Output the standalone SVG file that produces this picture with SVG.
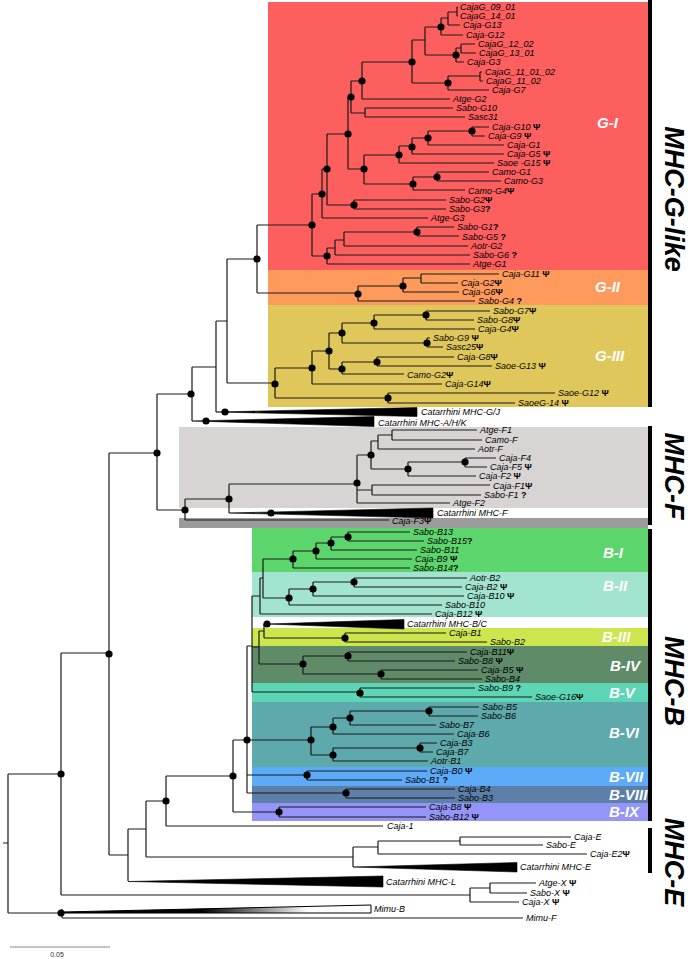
<svg xmlns="http://www.w3.org/2000/svg" width="688" height="959" viewBox="0 0 688 959">
<defs>
<style>
.t{font-family:"Liberation Sans",Arial,sans-serif;font-style:italic;font-size:9px;fill:#000}
.s{font-style:normal;font-weight:bold}
.bl{font-family:"Liberation Sans",Arial,sans-serif;font-style:italic;font-weight:bold;font-size:15px;fill:#fff}
.big{font-family:"Liberation Sans",Arial,sans-serif;font-style:italic;font-weight:bold;font-size:27px;fill:#000;text-anchor:middle}
.ln{fill:none;stroke:#1a1a1a;stroke-width:1.2}
.tri{fill:#000;stroke:#000;stroke-width:0.6}
.dot{fill:#000}
.bar{fill:#000}
</style>
<linearGradient id="gw" x1="0" y1="0" x2="1" y2="0">
<stop offset="0" stop-color="#000"/><stop offset="0.45" stop-color="#000"/><stop offset="0.8" stop-color="#fff"/><stop offset="1" stop-color="#fff"/>
</linearGradient>
</defs>
<rect width="688" height="959" fill="#fff"/>
<g id="bands">
<rect x="268" y="2" width="380" height="268" fill="#fd5e5e"/>
<rect x="268" y="270" width="380" height="35" fill="#fd9a5c"/>
<rect x="268" y="305" width="380" height="102" fill="#e0c75c"/>
<rect x="179" y="427" width="469" height="81" fill="#d8d4d4"/>
<rect x="179" y="518" width="469" height="10" fill="#9b9b9b"/>
<rect x="252" y="528" width="396" height="44" fill="#5cd66c"/>
<rect x="252" y="572" width="396" height="45" fill="#a2e4cf"/>
<rect x="252" y="628" width="396" height="18" fill="#cde64e"/>
<rect x="252" y="646" width="396" height="37" fill="#5f8b68"/>
<rect x="252" y="683" width="396" height="19" fill="#5dd6b5"/>
<rect x="252" y="702" width="396" height="65" fill="#5ea9ac"/>
<rect x="252" y="767" width="396" height="19" fill="#5caaf8"/>
<rect x="252" y="786" width="396" height="17" fill="#5c80a8"/>
<rect x="252" y="803" width="396" height="18" fill="#9595f9"/>
</g>
<g id="band-labels">
<text class="bl" x="597" y="128">G-I</text>
<text class="bl" x="595" y="292">G-II</text>
<text class="bl" x="595" y="361">G-III</text>
<text class="bl" x="603" y="558">B-I</text>
<text class="bl" x="603" y="591">B-II</text>
<text class="bl" x="602" y="642">B-III</text>
<text class="bl" x="610" y="671">B-IV</text>
<text class="bl" x="609" y="698">B-V</text>
<text class="bl" x="609" y="738">B-VI</text>
<text class="bl" x="609" y="782">B-VII</text>
<text class="bl" x="609" y="800">B-VIII</text>
<text class="bl" x="609" y="817">B-IX</text>
</g>
<g id="groups">
<rect class="bar" x="648" y="0" width="4" height="407"/>
<rect class="bar" x="648" y="426" width="4" height="99"/>
<rect class="bar" x="648" y="529" width="4" height="292"/>
<rect class="bar" x="648" y="828" width="4" height="45"/>
<text class="big" transform="translate(665,199) rotate(90)">MHC-G-like</text>
<text class="big" transform="translate(665,476) rotate(90)">MHC-F</text>
<text class="big" transform="translate(665,681) rotate(90)">MHC-B</text>
<text class="big" transform="translate(665,862) rotate(90)">MHC-E</text>
</g>
<g id="connectors">
<path class="ln" d="M3 843H8M8 774V913M8 774H61M8 913H61
M61 653V895M61 653H109M61 895H470
M470 888V902M470 888H490M490 883V893M490 883H536M490 893H527M470 902H519
M62 909V918M62 918H523
M109 453V855M109 453H157M109 855H128
M128 829V881M128 829H146
M146 801V857M146 801H166M146 857H353
M353 847V867M353 847H378M378 841V854M378 841H460M378 854H587
M460 837V845M460 837H571M460 845H543
M166 776V826M166 776H233M166 826H383
M233 740V812M233 740H247M233 812H279
M247 646V793M247 646H252M247 740H311M247 775H307M247 793H346
M252 596V692M252 596H260M252 647H259M252 692H360
M260 578V614M260 578H263M260 614H432
M263 559V598M263 559H293M263 598H289
M293 551V568M293 551H316M293 568H410
M316 543V559M316 543H331M316 559H412
M331 537V550M331 537H348M331 550H417
M348 532V541M348 532H410M348 541H424
M289 589V605M289 589H313M289 605H442
M313 582V596M313 582H354M313 596H464
M354 578V587M354 578H467M354 587H462
M259 631V664M259 631H264M259 664H303
M264 624V638M264 624H267M264 638H345
M345 633V642M345 633H446M345 642H487
M303 656V674M303 656H348M303 674H381
M348 652V661M348 652H467M348 661H455
M381 670V679M381 670H478M381 679H482
M360 688V697M360 688H475M360 697H532
M311 727V755M311 727H333M311 755H333
M333 718V734M333 718H350M333 734H454
M350 711V725M350 711H429M350 725H436
M429 707V716M429 707H479M429 716H478
M333 748V761M333 748H420M333 761H428
M420 743V752M420 743H437M420 752H433
M307 771V780M307 771H427M307 780H402
M346 789V798M346 789H455M346 798H455
M279 807V817M279 807H426M279 817H426
M157 394V510M157 394H192M157 510H185
M185 499V520M185 499H229M185 520H389
M229 484V513M229 484H357
M357 455V503M357 455H371M357 490H372M357 503H450
M371 441V469M371 441H378M371 469H408
M378 435V449M378 435H392M378 449H475
M392 430V440M392 430H477M392 440H482
M408 462V476M408 462H465M408 476H476
M465 458V467M465 458H496M465 467H487
M372 485V495M372 485H490M372 495H481
M192 367V421M192 367H216
M216 321V412M216 321H227
M227 259V383M227 259H257M227 383H275
M257 225V293M257 225H312M257 293H358
M358 286V301M358 286H403M358 301H475
M403 278V292M403 278H421M403 292H459
M421 274V283M421 274H499M421 283H458
M275 368V398M275 368H312M275 398H388
M388 393V403M388 393H555M388 403H515
M312 351V384M312 351H329M312 384H442
M329 333V369M329 333H342M329 369H342
M342 323V343M342 323H374M342 343H427
M374 315V329M374 315H426M374 329H475
M426 311V320M426 311H490M426 320H474
M427 338V347M427 338H430M427 347H443
M342 362V374M342 362H377M342 374H404
M377 357V366M377 357H454M377 366H492
M312 194V256M312 194H322M312 256H327
M322 169V218M322 169H327M322 218H428
M327 134V205M327 134H348M327 205H354
M354 200V209M354 200H446M354 209H446
M348 97V169M348 97H351M348 169H364
M351 81V113M351 81H362M351 113H365
M365 108V117M365 108H453M365 117H465
M362 62V99M362 62H412M362 99H450
M412 40V83M412 40H425M412 83H448
M425 27V55M425 27H441M425 55H456
M441 18V35M441 18H448M441 35H463
M448 12V25M448 12H457M448 25H460
M457 7V16M457 7H458M457 16H458
M456 48V62M456 48H461M456 62H464
M461 44V53M461 44H475M461 53H476
M448 76V90M448 76H480M448 90H489
M480 72V81M480 72H482M480 81H483
M364 155V184M364 155H399M364 184H413
M399 146V163M399 146H412M399 163H494
M412 138V154M412 138H428M412 154H504
M428 131V145M428 131H472M428 145H504
M472 127V136M472 127H489M472 136H485
M413 177V190M413 177H437M413 190H465
M437 172V181M437 172H489M437 181H501
M327 248V264M327 248H335M327 264H470
M335 240V255M335 240H344M335 255H470
M344 232V246M344 232H417M344 246H468
M417 227V236M417 227H454M417 236H459"/>
<polygon class="tri" points="128,881.5 383,876 383,887"/>
<polygon class="tri" points="353,867 517,862.5 517,872"/>
<polygon class="tri" points="267,624 404,619.5 404,629"/>
<polygon class="tri" points="229,513 433,508 433,518"/>
<polygon class="tri" points="192,421 374,416.5 374,426.5"/>
<polygon class="tri" points="216,412 417,407.5 417,416.5"/>
<polygon points="62,912 371,905 371,913 62,913" fill="url(#gw)" stroke="#000" stroke-width="1"/>
</g>
<g id="dots" class="dot">
<circle cx="441" cy="27" r="3.6"/><circle cx="456" cy="55" r="3.6"/><circle cx="412" cy="62" r="3.6"/><circle cx="448" cy="83" r="3.6"/>
<circle cx="362" cy="81" r="3.6"/><circle cx="351" cy="97" r="3.6"/><circle cx="348" cy="134" r="3.6"/><circle cx="472" cy="131" r="3.6"/>
<circle cx="428" cy="138" r="3.6"/><circle cx="412" cy="147" r="3.6"/><circle cx="399" cy="155" r="3.6"/><circle cx="437" cy="177" r="3.6"/>
<circle cx="364" cy="169" r="3.6"/><circle cx="413" cy="184" r="3.6"/><circle cx="327" cy="169" r="3.6"/><circle cx="354" cy="205" r="3.6"/>
<circle cx="322" cy="194" r="3.6"/><circle cx="312" cy="225" r="3.6"/><circle cx="417" cy="232" r="3.6"/><circle cx="327" cy="256" r="3.6"/>
<circle cx="257" cy="259" r="3.6"/><circle cx="403" cy="286" r="3.6"/><circle cx="358" cy="294" r="3.6"/>
<circle cx="426" cy="315" r="3.6"/><circle cx="374" cy="323" r="3.6"/><circle cx="342" cy="333" r="3.6"/><circle cx="329" cy="351" r="3.6"/>
<circle cx="427" cy="343" r="3.6"/><circle cx="312" cy="368" r="3.6"/><circle cx="377" cy="362" r="3.6"/><circle cx="342" cy="369" r="3.6"/>
<circle cx="275" cy="384" r="3.6"/><circle cx="388" cy="398" r="3.6"/><circle cx="225" cy="412" r="3.6"/><circle cx="206" cy="421" r="3.6"/>
<circle cx="191" cy="394" r="3.6"/><circle cx="157" cy="453" r="3.6"/>
<circle cx="371" cy="455" r="3.6"/><circle cx="465" cy="462" r="3.6"/><circle cx="408" cy="469" r="3.6"/><circle cx="357" cy="483" r="3.6"/>
<circle cx="229" cy="499" r="3.6"/><circle cx="185" cy="510" r="3.6"/><circle cx="271" cy="513" r="3.6"/>
<circle cx="348" cy="537" r="3.6"/><circle cx="331" cy="543" r="3.6"/><circle cx="316" cy="551" r="3.6"/><circle cx="293" cy="559" r="3.6"/>
<circle cx="354" cy="582" r="3.6"/><circle cx="313" cy="589" r="3.6"/><circle cx="289" cy="598" r="3.6"/><circle cx="267" cy="624" r="3.6"/>
<circle cx="345" cy="638" r="3.6"/><circle cx="348" cy="656" r="3.6"/><circle cx="303" cy="664" r="3.6"/><circle cx="381" cy="674" r="3.6"/>
<circle cx="360" cy="693" r="3.6"/><circle cx="429" cy="711" r="3.6"/><circle cx="350" cy="718" r="3.6"/><circle cx="333" cy="727" r="3.6"/>
<circle cx="311" cy="740" r="3.6"/><circle cx="420" cy="748" r="3.6"/><circle cx="333" cy="755" r="3.6"/>
<circle cx="307" cy="775" r="3.6"/><circle cx="346" cy="793" r="3.6"/><circle cx="279" cy="812" r="3.6"/><circle cx="247" cy="740" r="3.6"/>
<circle cx="233" cy="776" r="3.6"/><circle cx="166" cy="801" r="3.6"/><circle cx="109" cy="654" r="3.6"/><circle cx="61" cy="774" r="3.6"/><circle cx="61" cy="913" r="3.6"/>
</g>
<g id="labels">
<text class="t" x="460" y="10">CajaG_09_01</text>
<text class="t" x="460" y="19">CajaG_14_01</text>
<text class="t" x="463" y="28">Caja-G13</text>
<text class="t" x="466" y="38">Caja-G12</text>
<text class="t" x="478" y="47">CajaG_12_02</text>
<text class="t" x="479" y="56">CajaG_13_01</text>
<text class="t" x="467" y="65">Caja-G3</text>
<text class="t" x="485" y="75">CajaG_11_01_02</text>
<text class="t" x="486" y="84">CajaG_11_02</text>
<text class="t" x="492" y="93">Caja-G7</text>
<text class="t" x="453" y="102">Atge-G2</text>
<text class="t" x="456" y="111">Sabo-G10</text>
<text class="t" x="468" y="120">Sasc31</text>
<text class="t" x="492" y="130">Caja-G10 <tspan class="s">Ψ</tspan></text>
<text class="t" x="488" y="139">Caja-G9 <tspan class="s">Ψ</tspan></text>
<text class="t" x="507" y="148">Caja-G1</text>
<text class="t" x="507" y="157">Caja-G5 <tspan class="s">Ψ</tspan></text>
<text class="t" x="497" y="166">Saoe -G15 <tspan class="s">Ψ</tspan></text>
<text class="t" x="492" y="175">Camo-G1</text>
<text class="t" x="504" y="184">Camo-G3</text>
<text class="t" x="468" y="194">Camo-G4<tspan class="s">Ψ</tspan></text>
<text class="t" x="449" y="203">Sabo-G2<tspan class="s">Ψ</tspan></text>
<text class="t" x="449" y="212">Sabo-G3<tspan class="s">?</tspan></text>
<text class="t" x="431" y="221">Atge-G3</text>
<text class="t" x="457" y="230">Sabo-G1<tspan class="s">?</tspan></text>
<text class="t" x="462" y="240">Sabo-G5 <tspan class="s">?</tspan></text>
<text class="t" x="471" y="249">Aotr-G2</text>
<text class="t" x="473" y="258">Sabo-G6 <tspan class="s">?</tspan></text>
<text class="t" x="473" y="267">Atge-G1</text>
<text class="t" x="502" y="277">Caja-G11 <tspan class="s">Ψ</tspan></text>
<text class="t" x="461" y="286">Caja-G2<tspan class="s">Ψ</tspan></text>
<text class="t" x="462" y="295">Caja-G6<tspan class="s">Ψ</tspan></text>
<text class="t" x="478" y="304">Sabo-G4 <tspan class="s">?</tspan></text>
<text class="t" x="493" y="314">Sabo-G7<tspan class="s">Ψ</tspan></text>
<text class="t" x="477" y="323">Sabo-G8<tspan class="s">Ψ</tspan></text>
<text class="t" x="478" y="332">Caja-G4<tspan class="s">Ψ</tspan></text>
<text class="t" x="433" y="341">Sabo-G9 <tspan class="s">Ψ</tspan></text>
<text class="t" x="446" y="350">Sasc25<tspan class="s">Ψ</tspan></text>
<text class="t" x="457" y="360">Caja-G8<tspan class="s">Ψ</tspan></text>
<text class="t" x="495" y="369">Saoe-G13 <tspan class="s">Ψ</tspan></text>
<text class="t" x="407" y="378">Camo-G2<tspan class="s">Ψ</tspan></text>
<text class="t" x="445" y="387">Caja-G14<tspan class="s">Ψ</tspan></text>
<text class="t" x="558" y="396">Saoe-G12 <tspan class="s">Ψ</tspan></text>
<text class="t" x="518" y="406">SaoeG-14 <tspan class="s">Ψ</tspan></text>
<text class="t" x="421" y="415">Catarrhini MHC-G/J</text>
<text class="t" x="378" y="426">Catarrhini MHC-A/H/K</text>
<text class="t" x="480" y="433">Atge-F1</text>
<text class="t" x="485" y="442.5">Camo-F</text>
<text class="t" x="478" y="452">Aotr-F</text>
<text class="t" x="499" y="461">Caja-F4</text>
<text class="t" x="490" y="470">Caja-F5 <tspan class="s">Ψ</tspan></text>
<text class="t" x="479" y="479">Caja-F2 <tspan class="s">Ψ</tspan></text>
<text class="t" x="493" y="488.5">Caja-F1<tspan class="s">Ψ</tspan></text>
<text class="t" x="484" y="498">Sabo-F1 <tspan class="s">?</tspan></text>
<text class="t" x="453" y="506">Atge-F2</text>
<text class="t" x="437" y="516">Catarrhini MHC-F</text>
<text class="t" x="392" y="524">Caja-F3<tspan class="s">Ψ</tspan></text>
<text class="t" x="413" y="535">Sabo-B13</text>
<text class="t" x="427" y="544">Sabo-B15<tspan class="s">?</tspan></text>
<text class="t" x="420" y="553">Sabo-B11</text>
<text class="t" x="415" y="562">Caja-B9 <tspan class="s">Ψ</tspan></text>
<text class="t" x="413" y="571">Sabo-B14<tspan class="s">?</tspan></text>
<text class="t" x="470" y="581">Aotr-B2</text>
<text class="t" x="465" y="590">Caja-B2 <tspan class="s">Ψ</tspan></text>
<text class="t" x="467" y="599">Caja-B10 <tspan class="s">Ψ</tspan></text>
<text class="t" x="445" y="608">Sabo-B10</text>
<text class="t" x="435" y="617">Caja-B12 <tspan class="s">Ψ</tspan></text>
<text class="t" x="407" y="627">Catarrhini MHC-B/C</text>
<text class="t" x="449" y="636">Caja-B1</text>
<text class="t" x="490" y="645">Sabo-B2</text>
<text class="t" x="470" y="655">Caja-B11<tspan class="s">Ψ</tspan></text>
<text class="t" x="458" y="664">Sabo-B8 <tspan class="s">Ψ</tspan></text>
<text class="t" x="481" y="673">Caja-B5 <tspan class="s">Ψ</tspan></text>
<text class="t" x="485" y="682">Sabo-B4</text>
<text class="t" x="478" y="691">Sabo-B9 <tspan class="s">?</tspan></text>
<text class="t" x="535" y="700">Saoe-G16<tspan class="s">Ψ</tspan></text>
<text class="t" x="482" y="710">Sabo-B5</text>
<text class="t" x="481" y="719">Sabo-B6</text>
<text class="t" x="439" y="728">Sabo-B7</text>
<text class="t" x="457" y="737">Caja-B6</text>
<text class="t" x="440" y="746">Caja-B3</text>
<text class="t" x="436" y="755">Caja-B7</text>
<text class="t" x="431" y="764">Aotr-B1</text>
<text class="t" x="430" y="774">Caja-B0 <tspan class="s">Ψ</tspan></text>
<text class="t" x="405" y="783">Sabo-B1 <tspan class="s">?</tspan></text>
<text class="t" x="458" y="792">Caja-B4</text>
<text class="t" x="458" y="801">Sabo-B3</text>
<text class="t" x="429" y="810">Caja-B8 <tspan class="s">Ψ</tspan></text>
<text class="t" x="429" y="820">Sabo-B12 <tspan class="s">Ψ</tspan></text>
<text class="t" x="387" y="829">Caja-1</text>
<text class="t" x="574" y="840">Caja-E</text>
<text class="t" x="546" y="848">Sabo-E</text>
<text class="t" x="590" y="857">Caja-E2<tspan class="s">Ψ</tspan></text>
<text class="t" x="520" y="870">Catarrhini MHC-E</text>
<text class="t" x="386" y="885">Catarrhini MHC-L</text>
<text class="t" x="539" y="886">Atge-X <tspan class="s">Ψ</tspan></text>
<text class="t" x="530" y="896">Sabo-X <tspan class="s">Ψ</tspan></text>
<text class="t" x="522" y="905">Caja-X <tspan class="s">Ψ</tspan></text>
<text class="t" x="374" y="912">Mimu-B</text>
<text class="t" x="526" y="921">Mimu-F</text>
</g>
<g id="scale">
<line x1="10" y1="947" x2="110" y2="947" stroke="#888" stroke-width="1"/>
<text x="57" y="957" font-family="Liberation Sans, Arial, sans-serif" font-size="7" fill="#333" text-anchor="middle">0.05</text>
</g>
</svg>
